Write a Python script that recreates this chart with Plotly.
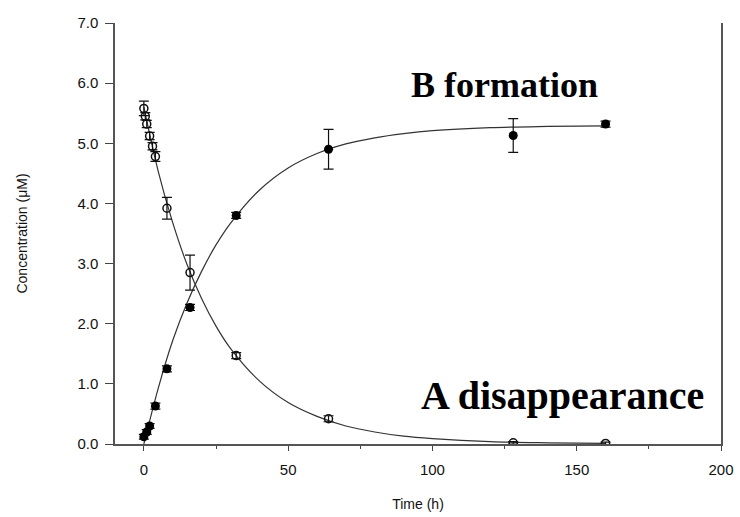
import plotly.graph_objects as go

# A disappearance (open circles)
a_time = [0, 0.5, 1, 2, 3, 4, 8, 16, 32, 64, 128, 160]
a_conc = [5.58, 5.45, 5.32, 5.12, 4.95, 4.78, 3.92, 2.85, 1.47, 0.42, 0.02, 0.01]
a_err = [0.12, 0.06, 0.06, 0.06, 0.06, 0.08, 0.18, 0.29, 0.05, 0.05, 0.02, 0.02]

# B formation (filled circles)
b_time = [0, 1, 2, 4, 8, 16, 32, 64, 128, 160]
b_conc = [0.12, 0.2, 0.3, 0.63, 1.25, 2.27, 3.8, 4.9, 5.13, 5.32]
b_err = [0.04, 0.04, 0.04, 0.05, 0.05, 0.05, 0.05, 0.33, 0.28, 0.05]

# Fitted curves
fit_time = [0, 5, 10, 15, 20, 25, 30, 40, 50, 60, 70, 80, 90, 100, 120, 140, 160]
a_fit = [5.6, 4.53, 3.68, 2.98, 2.42, 1.96, 1.59, 1.05, 0.69, 0.46, 0.30, 0.20, 0.13, 0.09, 0.04, 0.02, 0.01]
b_fit = [0.0, 0.93, 1.72, 2.35, 2.87, 3.31, 3.67, 4.22, 4.59, 4.83, 4.99, 5.09, 5.16, 5.21, 5.26, 5.28, 5.29]

x_ticks = [0, 50, 100, 150, 200]
y_ticks = [0, 1, 2, 3, 4, 5, 6, 7]
y_labels = ["0.0", "1.0", "2.0", "3.0", "4.0", "5.0", "6.0", "7.0"]

fig = go.Figure()
fig.add_trace(go.Scatter(x=fit_time, y=a_fit, mode="lines", line=dict(color="#333", width=1.2, shape="spline"), hoverinfo="skip"))
fig.add_trace(go.Scatter(x=fit_time, y=b_fit, mode="lines", line=dict(color="#333", width=1.2, shape="spline"), hoverinfo="skip"))
fig.add_trace(go.Scatter(
    x=a_time, y=a_conc, mode="markers",
    marker=dict(symbol="circle-open", size=8, color="#111", line=dict(width=1.5)),
    error_y=dict(type="data", array=a_err, color="#111", thickness=1.2, width=5),
))
fig.add_trace(go.Scatter(
    x=b_time, y=b_conc, mode="markers",
    marker=dict(symbol="circle", size=9, color="#000"),
    error_y=dict(type="data", array=b_err, color="#111", thickness=1.2, width=5),
))

fig.add_annotation(x=125, y=5.97, xref="x", yref="y", text="<b>B formation</b>", showarrow=False,
                   font=dict(family="Liberation Serif", size=36, color="#000"))
fig.add_annotation(x=145, y=0.81, xref="x", yref="y", text="<b>A disappearance</b>", showarrow=False,
                   font=dict(family="Liberation Serif", size=40, color="#000"))

fig.update_layout(
    width=740, height=517,
    margin=dict(l=115, r=19, t=23, b=73),
    paper_bgcolor="white", plot_bgcolor="white",
    showlegend=False,
    font=dict(family="Liberation Sans", size=15, color="#111"),
    xaxis=dict(
        range=[-10, 200], tickvals=x_ticks, ticks="outside", ticklen=5, tickwidth=1.2, tickcolor="#444",
        ticklabelstandoff=6, automargin=False,
        showline=True, linecolor="#555", linewidth=1.5, showgrid=False, zeroline=False,
        minor=dict(tickvals=[25, 75, 125, 175], ticks="outside", ticklen=3, tickcolor="#444"),
        title=dict(text="Time (h)", font=dict(size=14), standoff=22),
    ),
    yaxis=dict(
        range=[0, 7], tickvals=y_ticks, ticktext=y_labels, ticks="outside", ticklen=8, tickwidth=1.2, tickcolor="#444",
        ticklabelstandoff=4, automargin=False,
        showline=True, linecolor="#555", linewidth=1.5, mirror=True, showgrid=False, zeroline=False,
        title=dict(text="Concentration (μM)", font=dict(size=14), standoff=46),
    ),
)

fig.write_html("out.html")
